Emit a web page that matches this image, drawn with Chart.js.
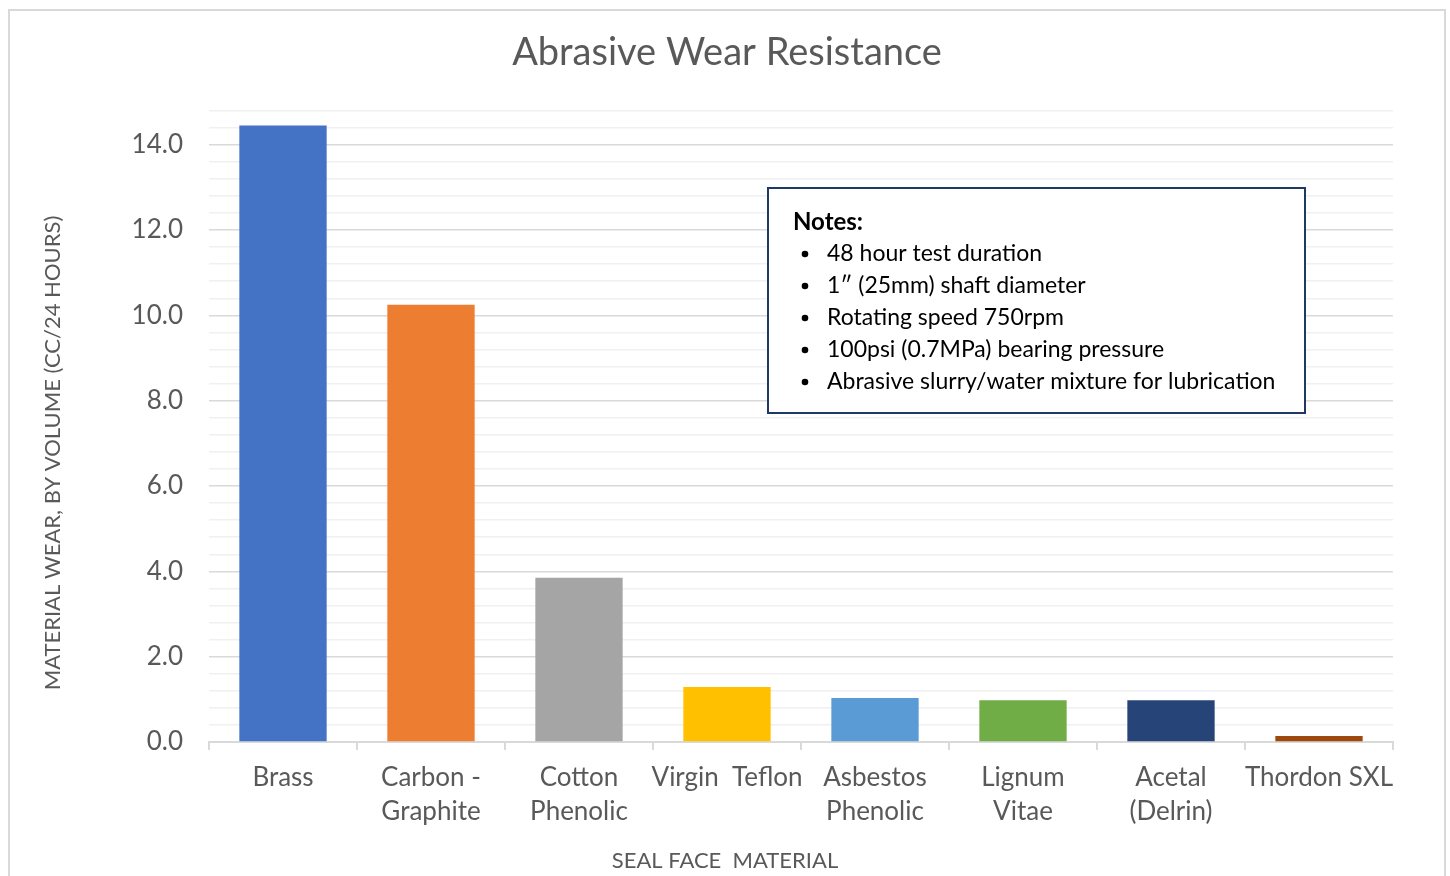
<!DOCTYPE html>
<html>
<head>
<meta charset="utf-8">
<title>Abrasive Wear Resistance</title>
<script src="https://cdn.jsdelivr.net/npm/chart.js@4.4.1/dist/chart.umd.min.js"></script>
<style>
  html, body { margin: 0; padding: 0; background: #fff; }
  #wrap { width: 1450px; height: 876px; }
</style>
</head>
<body>
<div id="wrap"><canvas id="wearChart"></canvas></div>
<script>
// Chart data
const materials = [
    'Brass',
    ['Carbon -', 'Graphite'],
    ['Cotton', 'Phenolic'],
    'Virgin  Teflon',
    ['Asbestos', 'Phenolic'],
    ['Lignum', 'Vitae'],
    ['Acetal', '(Delrin)'],
    'Thordon SXL'
];
const wearValues = [14.45, 10.25, 3.85, 1.29, 1.03, 0.98, 0.98, 0.14];
const barColors = ['#4472C4', '#ED7D31', '#A5A5A5', '#FFC000', '#5B9BD5', '#70AD47', '#264478', '#9E480E'];
const yMax = 14.8;
const yMinorStep = 0.4;
const yMajorStep = 2;
const yAxisTitle = 'MATERIAL WEAR, BY VOLUME (CC/24 HOURS)';
const xAxisTitle = 'SEAL FACE  MATERIAL';
const notesTitle = 'Notes:';
const notesLines = [
    '48 hour test duration',
    '1\u2033 (25mm) shaft diameter',
    'Rotating speed 750rpm',
    '100psi (0.7MPa) bearing pressure',
    'Abrasive slurry/water mixture for lubrication'
];

const FONT = 'Lato, "Noto Sans", sans-serif';
const GREY_TEXT = '#595959';

function isMajor(v) {
    const r = v / yMajorStep;
    return Math.abs(r - Math.round(r)) < 1e-6;
}

// Background + outer frame
const framePlugin = {
    id: 'frame',
    beforeDraw(chart) {
        const ctx = chart.ctx;
        ctx.save();
        ctx.fillStyle = '#ffffff';
        ctx.fillRect(0, 0, chart.width, chart.height);
        ctx.strokeStyle = '#d9d9d9';
        ctx.lineWidth = 2;
        ctx.strokeRect(9, 10, 1436, 900);
        ctx.restore();
    }
};

// Axis titles (Excel centres these on the whole chart, not the plot)
const axisTitlePlugin = {
    id: 'axisTitles',
    afterDraw(chart) {
        const ctx = chart.ctx;
        ctx.save();
        ctx.fillStyle = GREY_TEXT;
        ctx.font = '22px ' + FONT;
        ctx.textAlign = 'center';
        ctx.textBaseline = 'middle';
        ctx.fillText(xAxisTitle, 725, 861);
        ctx.translate(53, 453);
        ctx.rotate(-Math.PI / 2);
        ctx.fillText(yAxisTitle, 0, 0);
        ctx.restore();
    }
};

// Notes text box
const notesPlugin = {
    id: 'notes',
    afterDraw(chart) {
        const ctx = chart.ctx;
        const box = { x: 768, y: 188, w: 537, h: 225 };
        ctx.save();
        ctx.fillStyle = '#ffffff';
        ctx.fillRect(box.x, box.y, box.w, box.h);
        ctx.strokeStyle = '#1F3864';
        ctx.lineWidth = 2;
        ctx.strokeRect(box.x, box.y, box.w, box.h);

        ctx.fillStyle = '#000000';
        ctx.textBaseline = 'middle';
        ctx.textAlign = 'left';
        ctx.font = 'bold 24px ' + FONT;
        ctx.fillText(notesTitle, 793, 222);

        ctx.font = '23px ' + FONT;
        notesLines.forEach((line, i) => {
            const y = 254 + i * 32;
            ctx.beginPath();
            ctx.arc(805, y, 3.3, 0, Math.PI * 2);
            ctx.fill();
            ctx.fillText(line, 827, y);
        });
        ctx.restore();
    }
};

const ctx = document.getElementById('wearChart');
new Chart(ctx, {
    type: 'bar',
    data: {
        labels: materials,
        datasets: [{
            label: 'Material wear',
            data: wearValues,
            backgroundColor: barColors,
            borderWidth: 0,
            categoryPercentage: 1.0,
            barPercentage: 0.59
        }]
    },
    options: {
        responsive: true,
        maintainAspectRatio: false,
        animation: false,
        devicePixelRatio: 1,
        layout: {
            padding: { top: 0, left: 61, right: 57, bottom: 0 }
        },
        scales: {
            x: {
                offset: true,
                grid: {
                    display: true,
                    drawOnChartArea: false,
                    drawTicks: true,
                    tickLength: 8,
                    color: '#d9d9d9',
                    lineWidth: 2
                },
                border: { display: true, color: '#d9d9d9', width: 2 },
                ticks: {
                    autoSkip: false,
                    maxRotation: 0,
                    minRotation: 0,
                    padding: 11,
                    color: GREY_TEXT,
                    font: { family: FONT, size: 26, lineHeight: 1.31 }
                },
                afterFit(scale) {
                    scale.height = 876 - 742;
                }
            },
            y: {
                min: 0,
                max: yMax,
                grid: {
                    drawTicks: false,
                    color: c => isMajor(c.tick.value) ? '#d9d9d9' : '#f0f0f0',
                    lineWidth: 1.5
                },
                border: { display: false },
                ticks: {
                    stepSize: yMinorStep,
                    autoSkip: false,
                    padding: 26,
                    color: GREY_TEXT,
                    font: { family: FONT, size: 26 },
                    callback: v => isMajor(v) ? v.toFixed(1) : ''
                },
                afterFit(scale) {
                    scale.width = 209 - 61;
                }
            }
        },
        plugins: {
            legend: { display: false },
            tooltip: { enabled: false },
            title: {
                display: true,
                text: 'Abrasive Wear Resistance',
                color: GREY_TEXT,
                font: { family: FONT, size: 38, weight: 'normal', lineHeight: 1.2 },
                padding: { top: 30, bottom: 35 }
            }
        }
    },
    plugins: [framePlugin, axisTitlePlugin, notesPlugin]
});
</script>
</body>
</html>
